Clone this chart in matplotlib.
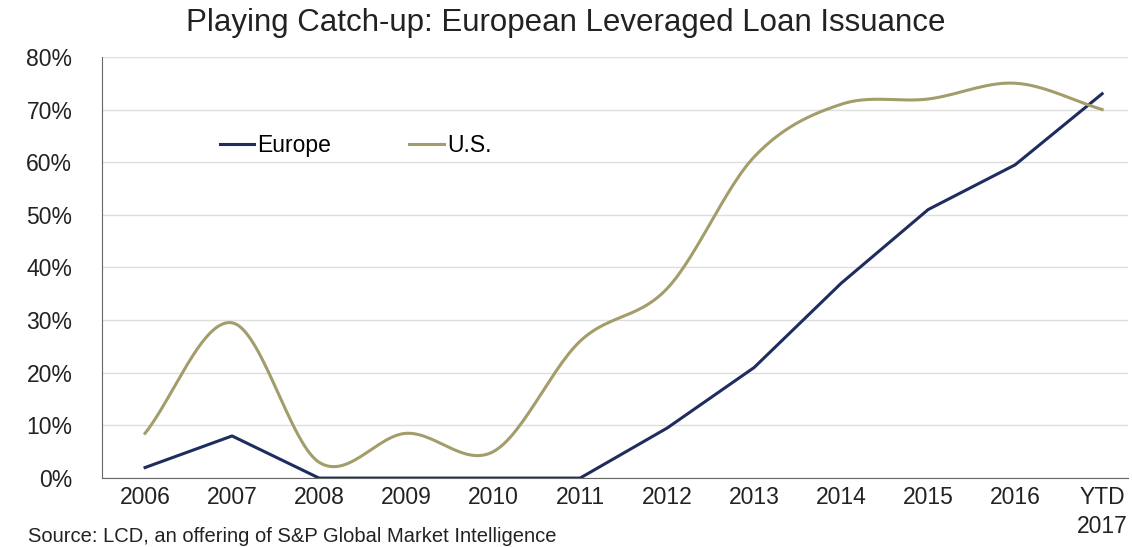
import numpy as np
import matplotlib.pyplot as plt

plt.rcParams['font.family'] = ['Liberation Sans', 'DejaVu Sans']

# data (share of issuance, %)
years = ['2006', '2007', '2008', '2009', '2010', '2011', '2012', '2013',
         '2014', '2015', '2016', 'YTD\n2017']
europe = [2, 8, 0, 0, 0, 0, 9.5, 21, 37, 51, 59.5, 73]
us = [8.5, 29.5, 3, 8.5, 5, 26, 36, 61, 71, 72, 75, 70]


def smooth(x, y, n=30):
    # Catmull-Rom curve through the points, like a "smoothed line" in Excel
    x = np.asarray(x, float)
    y = np.asarray(y, float)
    px = np.concatenate([[2 * x[0] - x[1]], x, [2 * x[-1] - x[-2]]])
    py = np.concatenate([[2 * y[0] - y[1]], y, [2 * y[-1] - y[-2]]])
    xs, ys = [], []
    t = np.linspace(0, 1, n)
    for i in range(1, len(px) - 2):
        for p, out in ((px, xs), (py, ys)):
            p0, p1, p2, p3 = p[i - 1], p[i], p[i + 1], p[i + 2]
            out.append(0.5 * (2 * p1 + (-p0 + p2) * t
                              + (2 * p0 - 5 * p1 + 4 * p2 - p3) * t ** 2
                              + (-p0 + 3 * p1 - 3 * p2 + p3) * t ** 3))
    return np.concatenate(xs), np.concatenate(ys)


x = np.arange(len(years))
sx, sy = smooth(x, us)

fig = plt.figure(figsize=(11.32, 5.47), dpi=100)
ax = fig.add_axes([0.0897, 0.126, 0.907, 0.770])

ax.plot(x, europe, color='#1f2c5e', lw=2.2, label='Europe')
ax.plot(sx, sy, color='#a39d6c', lw=2.2, label='U.S.')

ax.set_xlim(-0.5, 11.3)
ax.set_ylim(0, 80)
ax.set_yticks(range(0, 81, 10))
ax.set_yticklabels([f'{v}%' for v in range(0, 81, 10)])
ax.set_xticks(x)
ax.set_xticklabels(years, linespacing=1.3)
ax.tick_params(axis='both', length=0, labelsize=16.5, colors='#222222')
ax.tick_params(axis='y', pad=21)
ax.tick_params(axis='x', pad=6)
ax.grid(axis='y', color='#dedede', lw=1)
ax.set_axisbelow(True)
for s in ['top', 'right']:
    ax.spines[s].set_visible(False)
ax.spines['left'].set_color('#666666')
ax.spines['bottom'].set_color('#666666')

ax.legend(loc='upper left', bbox_to_anchor=(0.095, 0.865), ncol=2, frameon=False,
          fontsize=16.5, handlelength=1.5, handletextpad=0.15, columnspacing=3.4)

fig.text(0.5, 0.958, 'Playing Catch-up: European Leveraged Loan Issuance',
         ha='center', va='center', fontsize=22.5, color='#222222')
fig.text(0.025, 0.02, 'Source: LCD, an offering of S&P Global Market Intelligence',
         ha='left', va='center', fontsize=14.5, color='#222222')

fig.savefig('out.png', dpi=100)
